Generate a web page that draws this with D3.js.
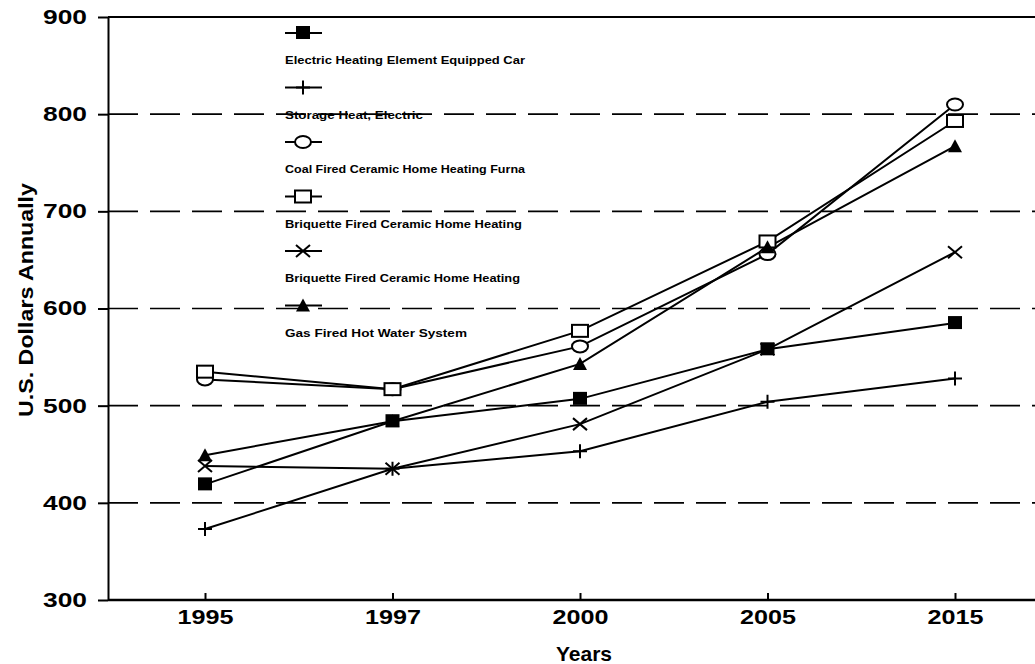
<!DOCTYPE html>
<html>
<head>
<meta charset="utf-8">
<script src="https://cdn.jsdelivr.net/npm/d3@7"></script>
<style>
  body { margin: 0; background: #fff; }
  svg { font-family: "Liberation Sans", Arial, sans-serif; }
</style>
</head>
<body>
<div id="chart"></div>
<script>
// years on the x axis (categorical, evenly spaced)
var years = ["1995", "1997", "2000", "2005", "2015"];
var yTicks = [300, 400, 500, 600, 700, 800, 900];
var gridTicks = [400, 500, 600, 700, 800];

// series values
var electricCar  = [419, 484, 507, 558, 585];
var storageHeat  = [373, 435, 453, 504, 528];
var coalFired    = [527, 517, 561, 656, 810];
var briquette1   = [535, 517, 577, 669, 793];
var briquette2   = [438, 435, 481, 558, 658];
var gasFired     = [449, 484, 543, 663, 767];

var seriesNames = [
  "Electric Heating Element Equipped Car",
  "Storage Heat, Electric",
  "Coal Fired Ceramic Home Heating Furna",
  "Briquette Fired Ceramic Home Heating",
  "Briquette Fired Ceramic Home Heating",
  "Gas Fired Hot Water System"
];
var seriesMarks = ["fsquare", "plus", "circle", "osquare", "cross", "triangle"];
var seriesValues = [electricCar, storageHeat, coalFired, briquette1, briquette2, gasFired];

var chartW = 1035, chartH = 664;
var plotLeft = 108, plotTop = 17, plotBottom = 600;

const svg = d3.select("#chart")
  .append("svg")
    .attr("width", chartW)
    .attr("height", chartH);

// scales
const x = d3.scalePoint()
  .domain(years)
  .range([205, 955]);

const y = d3.scaleLinear()
  .domain([300, 900])
  .range([plotBottom, plotTop]);

// dashed gridlines
svg.append("g")
  .selectAll("line")
  .data(gridTicks)
  .join("line")
    .attr("x1", plotLeft)
    .attr("x2", chartW)
    .attr("y1", d => y(d))
    .attr("y2", d => y(d))
    .attr("stroke", "#000")
    .attr("stroke-width", 1.6)
    .attr("stroke-dasharray", "30,12");

// top frame line
svg.append("line")
  .attr("x1", plotLeft).attr("x2", chartW)
  .attr("y1", y(900)).attr("y2", y(900))
  .attr("stroke", "#000").attr("stroke-width", 2);

// y axis
const yAxis = svg.append("g")
  .attr("transform", `translate(${plotLeft},0)`)
  .call(d3.axisLeft(y).tickValues(yTicks).tickSize(10).tickPadding(11).tickSizeOuter(0));
yAxis.select(".domain").attr("stroke-width", 2);
yAxis.selectAll(".tick line").attr("stroke-width", 2);
yAxis.selectAll("text")
  .attr("font-size", "20px")
  .attr("font-weight", "bold")
  .attr("fill", "#000")
  .attr("font-family", "Liberation Sans, Arial, sans-serif")
  .attr("textLength", 44)
  .attr("lengthAdjust", "spacingAndGlyphs");

// x axis, ticks point into the plot
const xAxis = svg.append("g")
  .attr("transform", `translate(0,${plotBottom})`)
  .call(d3.axisBottom(x).tickSize(-7).tickPadding(10).tickSizeOuter(0));
xAxis.select(".domain").attr("d", `M${plotLeft},0H${chartW}`).attr("stroke-width", 2.5);
xAxis.selectAll(".tick line").attr("stroke-width", 2);
xAxis.selectAll("text")
  .attr("font-size", "20px")
  .attr("font-weight", "bold")
  .attr("fill", "#000")
  .attr("font-family", "Liberation Sans, Arial, sans-serif")
  .attr("textLength", 56)
  .attr("lengthAdjust", "spacingAndGlyphs");

// axis titles
svg.append("text")
  .attr("x", 584)
  .attr("y", 661)
  .attr("text-anchor", "middle")
  .attr("font-size", "21px")
  .attr("font-weight", "bold")
  .text("Years");

svg.append("text")
  .attr("transform", "translate(33,300) rotate(-90)")
  .attr("text-anchor", "middle")
  .attr("font-size", "20px")
  .attr("font-weight", "bold")
  .attr("textLength", 234)
  .attr("lengthAdjust", "spacingAndGlyphs")
  .text("U.S. Dollars Annually");

// marker drawing
function drawMark(g, type, cx, cy) {
  if (type == "fsquare") {
    g.append("rect").attr("x", cx - 7).attr("y", cy - 7).attr("width", 14).attr("height", 13)
      .attr("fill", "#000");
  } else if (type == "osquare") {
    g.append("rect").attr("x", cx - 8).attr("y", cy - 6).attr("width", 16).attr("height", 12)
      .attr("fill", "#fff").attr("stroke", "#000").attr("stroke-width", 2);
  } else if (type == "circle") {
    g.append("ellipse").attr("cx", cx).attr("cy", cy).attr("rx", 8).attr("ry", 6)
      .attr("fill", "#fff").attr("stroke", "#000").attr("stroke-width", 2);
  } else if (type == "triangle") {
    g.append("path").attr("d", `M${cx},${cy - 7}L${cx + 7},${cy + 6}L${cx - 7},${cy + 6}Z`)
      .attr("fill", "#000");
  } else if (type == "cross") {
    g.append("path").attr("d", `M${cx - 7},${cy - 6}L${cx + 7},${cy + 6}M${cx - 7},${cy + 6}L${cx + 7},${cy - 6}`)
      .attr("stroke", "#000").attr("stroke-width", 2);
  } else if (type == "plus") {
    g.append("path").attr("d", `M${cx - 7},${cy}L${cx + 7},${cy}M${cx},${cy - 7}L${cx},${cy + 7}`)
      .attr("stroke", "#000").attr("stroke-width", 2);
  }
}

const line = d3.line()
  .x((d, i) => x(years[i]))
  .y(d => y(d));

// series lines
const seriesG = svg.append("g");
seriesValues.forEach(function(vals) {
  seriesG.append("path")
    .attr("d", line(vals))
    .attr("fill", "none")
    .attr("stroke", "#000")
    .attr("stroke-width", 2);
});
// markers on top
seriesValues.forEach(function(vals, s) {
  vals.forEach(function(v, i) {
    drawMark(seriesG, seriesMarks[s], x(years[i]), y(v));
  });
});

// legend: marker row, then label below
var legendTop = 33, legendStep = 54.5;
var legendWidths = [240, 138, 240, 237, 235, 182];
const legend = svg.append("g");
seriesNames.forEach(function(name, i) {
  var ly = legendTop + i * legendStep;
  legend.append("line")
    .attr("x1", 285).attr("x2", 322)
    .attr("y1", ly).attr("y2", ly)
    .attr("stroke", "#000").attr("stroke-width", 2);
  drawMark(legend, seriesMarks[i], 303, ly);
  legend.append("text")
    .attr("x", 285)
    .attr("y", ly + 31)
    .attr("font-size", "10px")
    .attr("font-weight", "bold")
    .attr("textLength", legendWidths[i])
    .attr("lengthAdjust", "spacingAndGlyphs")
    .text(name);
});
</script>
</body>
</html>
